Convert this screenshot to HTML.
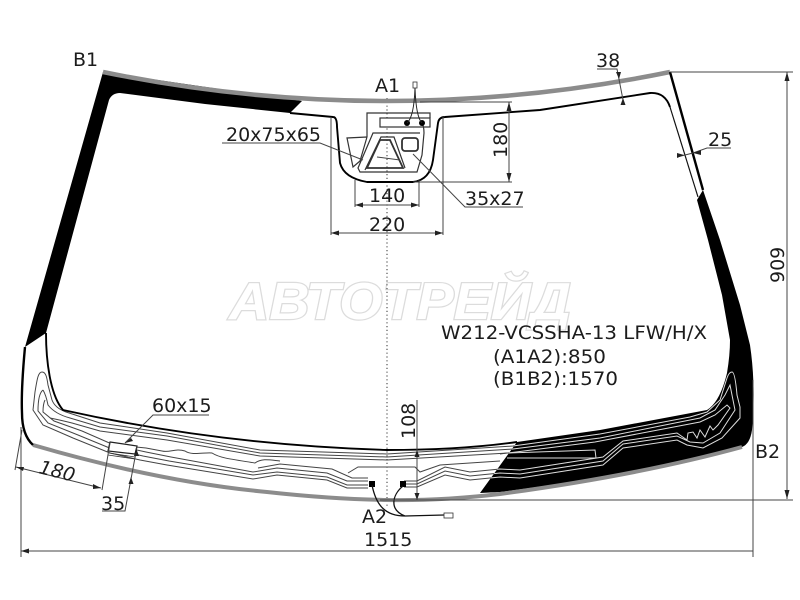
<!DOCTYPE html>
<html><head><meta charset="utf-8"><style>
html,body{margin:0;padding:0;background:#fff}
svg{display:block}
text{font-family:"DejaVu Sans","Liberation Sans",sans-serif;font-size:19px;fill:#1c1c1c}
</style></head><body>
<svg width="800" height="600" viewBox="0 0 800 600" xmlns="http://www.w3.org/2000/svg">
<defs>
<clipPath id="bk"><path d="M697 200L703 190L720 240L740 305L750 345Q756 385 752 430Q750 444 742 447Q640 474 500 492L480 493L517 442L600 430L707 410Q720 402 727 373Q730 355 730 340L722 295L708 240Z"/></clipPath>
<g id="wires" fill="none" stroke-width="1">
<!-- left lower bundle, running to connector -->
<path d="M42 372C38 372 37 380 35 392L33 410L43 425L73 438L110 453L140 460L167 465L253 479L277 475L327 480L347 488L368 488"/>
<path d="M43 390C39 393 38 402 38 411L48 423L78 435L112 449L143 456L169 461L253 475L277 472L327 477L347 485L368 485"/>
<path d="M45 400C43 404 43 408 43 412L54 421L82 431L114 445L146 452L171 457L253 472L277 468L327 473L347 481L368 481"/>
<path d="M368 478L352 478L332 469L280 464L258 468"/>
<!-- left upper bundle -->
<path d="M42 372C46 372 47 378 48 385L52 400Q55 408 66 412L100 423L167 433L260 450L387 454L513 446L600 434L690 417L707 412L720 400L727 378Q729 372 732 372Q735 372 737 395L740 407L740 418L722 438L703 448L687 445L677 440L623 448L603 465L520 478L500 477L470 480L445 475L417 487L404 487"/>
<path d="M43 390Q46 395 48 405Q55 414 70 418L100 427L167 436L260 453L387 457L513 449L600 438L700 418L715 410L725 395L730 385L735 410L720 433L703 443L690 442L677 436L623 444L603 461L520 474L500 473L470 476L445 471L417 484L404 484"/>
<path d="M50 418Q60 420 72 423L100 431L167 440L260 456L387 460L508 453L595 442L700 422L715 415L727 405L730 408L718 425L713 430L710 426L705 437L700 430L697 438L693 432L688 433L687 440L677 433L623 441L603 457L520 470L500 469L470 472L445 467L417 481L404 481"/>
<!-- wavy middle line + bridge -->
<path d="M136 447L146 448L162 451C170 453 175 448 185 451C192 456 205 452 212 453C220 458 230 459 255 463C262 458 270 460 280 461"/>
<path d="M348 473L358 467L415 467L420 472L440 465L500 461"/>
<path d="M500 454L507 453L595 450L596 458L507 458"/>
</g>
</defs>
<rect width="800" height="600" fill="#fff"/>

<!-- watermark -->
<text x="229" y="319" textLength="342" lengthAdjust="spacingAndGlyphs" style="font-family:'Liberation Sans',sans-serif;font-size:52px;font-weight:bold;font-style:italic;fill:#fff;stroke:#dcdcdc;stroke-width:2.4;paint-order:stroke">АВТОТРЕЙД</text>

<!-- center dotted -->
<path d="M387 98V506" stroke="#333" stroke-width="1" stroke-dasharray="1.2 2.6" fill="none"/>

<!-- wires under black -->
<use href="#wires" stroke="#444"/>

<!-- black bands -->
<path d="M103 72L302 101L290 113L205 104L120 93Q112 93 109 100L46 333L25 347Z" fill="#000"/>
<path d="M697 200L703 190L720 240L740 305L750 345Q756 385 752 430Q750 444 742 447Q640 474 500 492L480 493L517 442L600 430L707 410Q720 402 727 373Q730 355 730 340L722 295L708 240Z" fill="#000"/>
<use href="#wires" stroke="#ddd" clip-path="url(#bk)"/>

<!-- glass outlines -->
<path d="M103 72Q386 130 670 72" fill="none" stroke="#8c8c8c" stroke-width="4.500"/>
<path d="M33 445Q160 482 267 492Q330 499 387 500Q440 501 500 494Q640 475 742 447" fill="none" stroke="#8c8c8c" stroke-width="4"/>
<path d="M670 72L703 190" fill="none" stroke="#000" stroke-width="2.400"/>
<path d="M25 347Q21 390 22 413Q22 435 33 445" fill="none" stroke="#000" stroke-width="2.400"/>
<path d="M46 333C46 360 50 395 63 410Q220 445 387 450Q460 450 517 442" fill="none" stroke="#000" stroke-width="1.900"/>
<path d="M290 113L333 117Q337 117 337 127L340 163Q344 178 367 182L413 182Q430 180 433 160L438 123Q439 117 445 117L540 110L650 93Q665 92 670 107" fill="none" stroke="#000" stroke-width="1.900"/>
<path d="M670 107L698 197" fill="none" stroke="#111" stroke-width="1.200"/>

<!-- sensor -->
<g fill="none" stroke="#333" stroke-width="1.200">
<path d="M367 137V113L430 113V118"/>
<rect x="380" y="118" width="50" height="9" fill="#fff"/>
<path d="M422 124Q424 126 424 133L422 155L417 172H360L358 168L373 133H420"/>
<path d="M367 137L347 138L353 167L360 161L367 137"/>
<path d="M365 170L381 137H394L405 168"/>
<path d="M380 140H390L403 168H367Z" stroke-width="1.800"/>
<rect x="402" y="138" width="16" height="13" rx="3" stroke-width="1.800"/>
</g>
<circle cx="407" cy="123" r="3"/>
<circle cx="422" cy="123" r="3"/>
<path d="M407 123Q414 117 415 88M422 123Q416 117 415 88" fill="none" stroke="#222" stroke-width="1"/>
<rect x="413" y="82" width="4" height="6" fill="#fff" stroke="#333" stroke-width="0.800"/>

<!-- bottom connectors -->
<rect x="369" y="481" width="6" height="6"/>
<rect x="400" y="481" width="6" height="6"/>
<path d="M372 485C376 505 385 516 405 516L444 515M403 486C392 495 389 510 405 516" fill="none" stroke="#111" stroke-width="1.300"/>
<rect x="444" y="513" width="9" height="5" fill="#fff" stroke="#333" stroke-width="0.800"/>
<path d="M110 442L137 446L135 454L108 451Z" fill="#fff" stroke="#222" stroke-width="1.200"/>
<path d="M109 453L135 457M108 455L135 459" stroke="#333" stroke-width="0.800"/>

<!-- dimensions -->
<g fill="none" stroke="#444" stroke-width="1">
<path d="M787 72V499M670 72H793M380 500H793M753 380V557M21 427V557M21 551H753"/>
<path d="M417 400V500"/>
<path d="M509 102V182M420 102H512M413 182H512"/>
<path d="M355 180V207M419 180V207M355 205H419"/>
<path d="M331 117V235M443 117V235M331 233H443"/>
<path d="M413 154L465 207H523"/>
<path d="M222 143H320L363 160M377 157L400 160"/>
<path d="M597 69H617L624 105"/>
<path d="M731 148H707L693 153L677 157"/>
<path d="M209 415H153L125 443"/>
<path d="M16 467L101 488M22 430L15 470M110 443L102 490"/>
<path d="M137 447L125 511H102"/>
</g>
<g fill="#222">
<path d="M787 72l-2.500 9h5zM787 499l-2.500-9h5z"/>
<path d="M417 450l-2.500 7h5zM417 500l-2.500-7h5z"/>
<path d="M509 102l-2.500 9h5zM509 182l-2.500-9h5z"/>
<path d="M355 205l8-2.500v5zM419 205l-8-2.500v5z"/>
<path d="M331 233l8-2.500v5zM443 233l-8-2.500v5z"/>
<path d="M21 551l8-2.500v5z"/>
<path d="M619 79l-3-7h5zM623 98l-2.500 7h5z"/>
<path d="M693 153l8-3v5zM684 155l-7 3 0-5z"/>
<path d="M16 467l8 0-1 4zM101 488l-8-4 0 5z"/>
<path d="M131 477l-2.500 7h5zM136 448l-2 8h5z"/>
<path d="M125 443l6-5 2 3z"/>
</g>

<!-- labels -->
<text x="73" y="66">B1</text>
<text x="375" y="92">A1</text>
<text x="362" y="523">A2</text>
<text x="755" y="458">B2</text>
<text x="596" y="67">38</text>
<text x="708" y="146">25</text>
<text x="226" y="141">20x75x65</text>
<text x="465" y="205">35x27</text>
<text x="369" y="202">140</text>
<text x="369" y="231">220</text>
<text x="364" y="546">1515</text>
<text x="152" y="412">60x15</text>
<text x="101" y="510">35</text>
<text transform="translate(38,473) rotate(14)" font-style="italic">180</text>
<text transform="translate(507,158) rotate(-90)">180</text>
<text transform="translate(415,439) rotate(-90)">108</text>
<text transform="translate(784,283) rotate(-90)">909</text>
<text x="441" y="339" textLength="266" lengthAdjust="spacingAndGlyphs">W212-VCSSHA-13 LFW/H/X</text>
<text x="493" y="363" textLength="113" lengthAdjust="spacingAndGlyphs">(A1A2):850</text>
<text x="493" y="385" textLength="125" lengthAdjust="spacingAndGlyphs">(B1B2):1570</text>
</svg>
</body></html>
